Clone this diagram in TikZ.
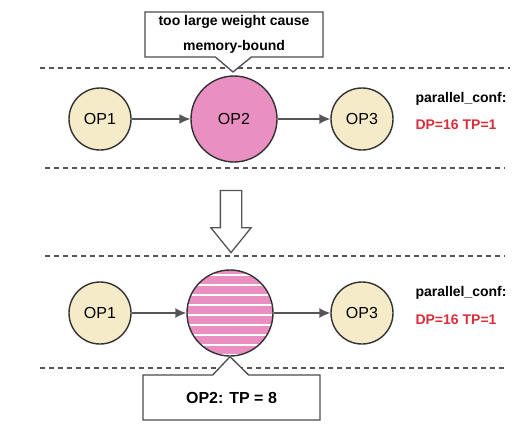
\documentclass[tikz,border=0pt]{standalone}
\usepackage{fontspec}
\setmainfont{Liberation Sans}
\usepackage{xcolor}
\usetikzlibrary{shapes.callouts,shapes.arrows,arrows.meta}
\definecolor{opyellow}{HTML}{F6EBC8}
\definecolor{oppink}{HTML}{EA8FC1}
\definecolor{linegray}{HTML}{555555}
\definecolor{confred}{HTML}{DA2E3C}

\begin{document}
\begin{tikzpicture}[x=1pt,y=-1pt,
  op/.style={circle, draw=black!80, line width=1.4pt, inner sep=0pt, font=\fontsize{16}{19}\selectfont},
  small/.style={op, fill=opyellow, minimum size=62pt},
  big/.style={op, fill=oppink, minimum size=86pt},
  flow/.style={line width=1.4pt, draw=linegray, -{Latex[length=11pt,width=10pt]}},
  sep/.style={line width=1.5pt, draw=linegray, dash pattern=on 5pt off 4pt},
  conf/.style={anchor=west, font=\bfseries\fontsize{14}{17}\selectfont},
  note/.style={rectangle callout, draw=black!70, line width=1.3pt, fill=white, font=\bfseries, callout pointer width=36pt}]
\useasboundingbox (0,0) rectangle (526,434);
%%%%%%%%%%%%%%%%%%%%%%%%%%%%%%%%%%%%%%%%%%%%%%%%%%
% before
%%%%%%%%%%%%%%%%%%%%%%%%%%%%%%%%%%%%%%%%%%%%%%%%%%
\begin{scope}
  \coordinate (t1) at (40,68);
  \coordinate (t2) at (510,68);
  \coordinate (b1) at (45,168);
  \coordinate (b2) at (505,168);
  \draw[sep] (t1)--(t2);
  \draw[sep] (b1)--(b2);

  \node[small] (op1) at (100,119) {OP1};
  \node[big] (op2) at (234,119) {OP2};
  \node[small] (op3) at (362,119) {OP3};

  \draw[flow] (op1)--(op2);
  \draw[flow] (op2)--(op3);

  \node[conf] (pc) at (412,99) {parallel\_conf:};
  \node[conf, text=confred] (dp) at (412,125) {DP=16 TP=1};

  \node[note, minimum width=178pt, minimum height=45pt, align=center,
        font=\bfseries\fontsize{14}{25}\selectfont,
        callout absolute pointer={(233,72)}] (why) at (234,34.5)
        {too large weight cause\\memory-bound};
\end{scope}
%%%%%%%%%%%%%%%%%%%%%%%%%%%%%%%%%%%%%%%%%%%%%%%%%%
% arrow
%%%%%%%%%%%%%%%%%%%%%%%%%%%%%%%%%%%%%%%%%%%%%%%%%%
\node[single arrow, draw=linegray, line width=1.3pt, fill=white, rotate=-90,
      minimum height=62pt, inner xsep=0pt, inner ysep=10pt,
      single arrow head extend=9.5pt, single arrow tip angle=78] (down) at (231,215) {};
%%%%%%%%%%%%%%%%%%%%%%%%%%%%%%%%%%%%%%%%%%%%%%%%%%
% after
%%%%%%%%%%%%%%%%%%%%%%%%%%%%%%%%%%%%%%%%%%%%%%%%%%
\begin{scope}
  \coordinate (t3) at (45,256);
  \coordinate (t4) at (505,256);
  \coordinate (b3) at (40,368);
  \coordinate (b4) at (505,368);
  \draw[sep] (t3)--(t4);
  \draw[sep] (b3)--(b4);

  \node[small] (op1b) at (100,313) {OP1};
  \node[big, draw=none] (op2b) at (230,313) {};
  \begin{scope}
    \clip (op2b.center) circle (43pt);
    \foreach \y in {-38,-28,...,42}
      \draw[white, line width=2.5pt] (187,313+\y) -- (273,313+\y);
  \end{scope}
  \draw[black!80, line width=1.4pt] (op2b.center) circle (43pt);
  \node[small] (op3b) at (362,313) {OP3};

  \draw[flow] (op1b)--(op2b);
  \draw[flow] (op2b)--(op3b);

  \node[conf] (pcb) at (412,293) {parallel\_conf:};
  \node[conf, text=confred] (dpb) at (412,320) {DP=16 TP=1};

  \node[note, minimum width=177pt, minimum height=45pt,
        font=\bfseries\fontsize{16}{19}\selectfont,
        callout absolute pointer={(op2b.south)}] (tp) at (231.5,397.5)
        {OP2: TP = 8};
\end{scope}
\end{tikzpicture}
\end{document}
